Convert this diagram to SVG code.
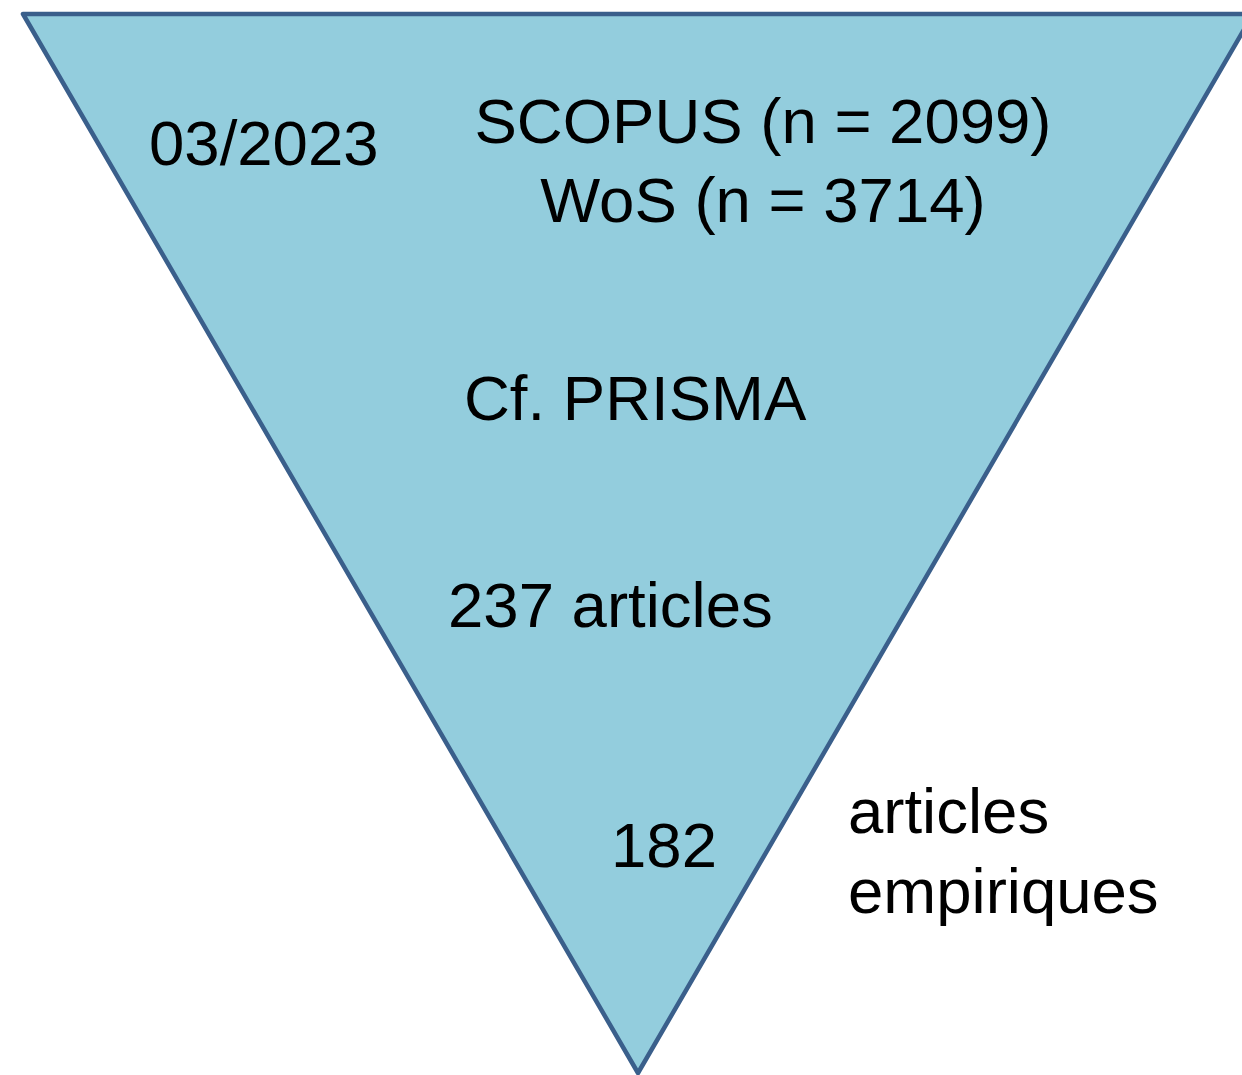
<svg xmlns="http://www.w3.org/2000/svg" width="1242" height="1075" viewBox="0 0 1242 1075">
<style>
.t{font-family:"Liberation Sans",Arial,sans-serif;font-size:63.5px;fill:#000}
.m{text-anchor:middle}
</style>
<rect width="1242" height="1075" fill="#fff"/>
<g id="funnel">
<polygon points="23,14 1253,14 638,1073" fill="#93CDDD" stroke="#3A5F8B" stroke-width="4.5" stroke-linejoin="round"/>
</g>
<g id="date"><text class="t" x="149" y="165">03/2023</text></g>
<g id="sources">
<text class="t m" x="763" y="143">SCOPUS (n = 2099)</text>
<text class="t m" x="763" y="222">WoS (n = 3714)</text>
</g>
<g id="prisma"><text class="t" x="464" y="420">Cf. PRISMA</text></g>
<g id="n237"><text class="t" x="448" y="627">237 articles</text></g>
<g id="n182"><text class="t" x="611" y="867">182</text></g>
<g id="empirical">
<text class="t" x="848" y="833">articles</text>
<text class="t" x="848" y="913">empiriques</text>
</g>
</svg>
